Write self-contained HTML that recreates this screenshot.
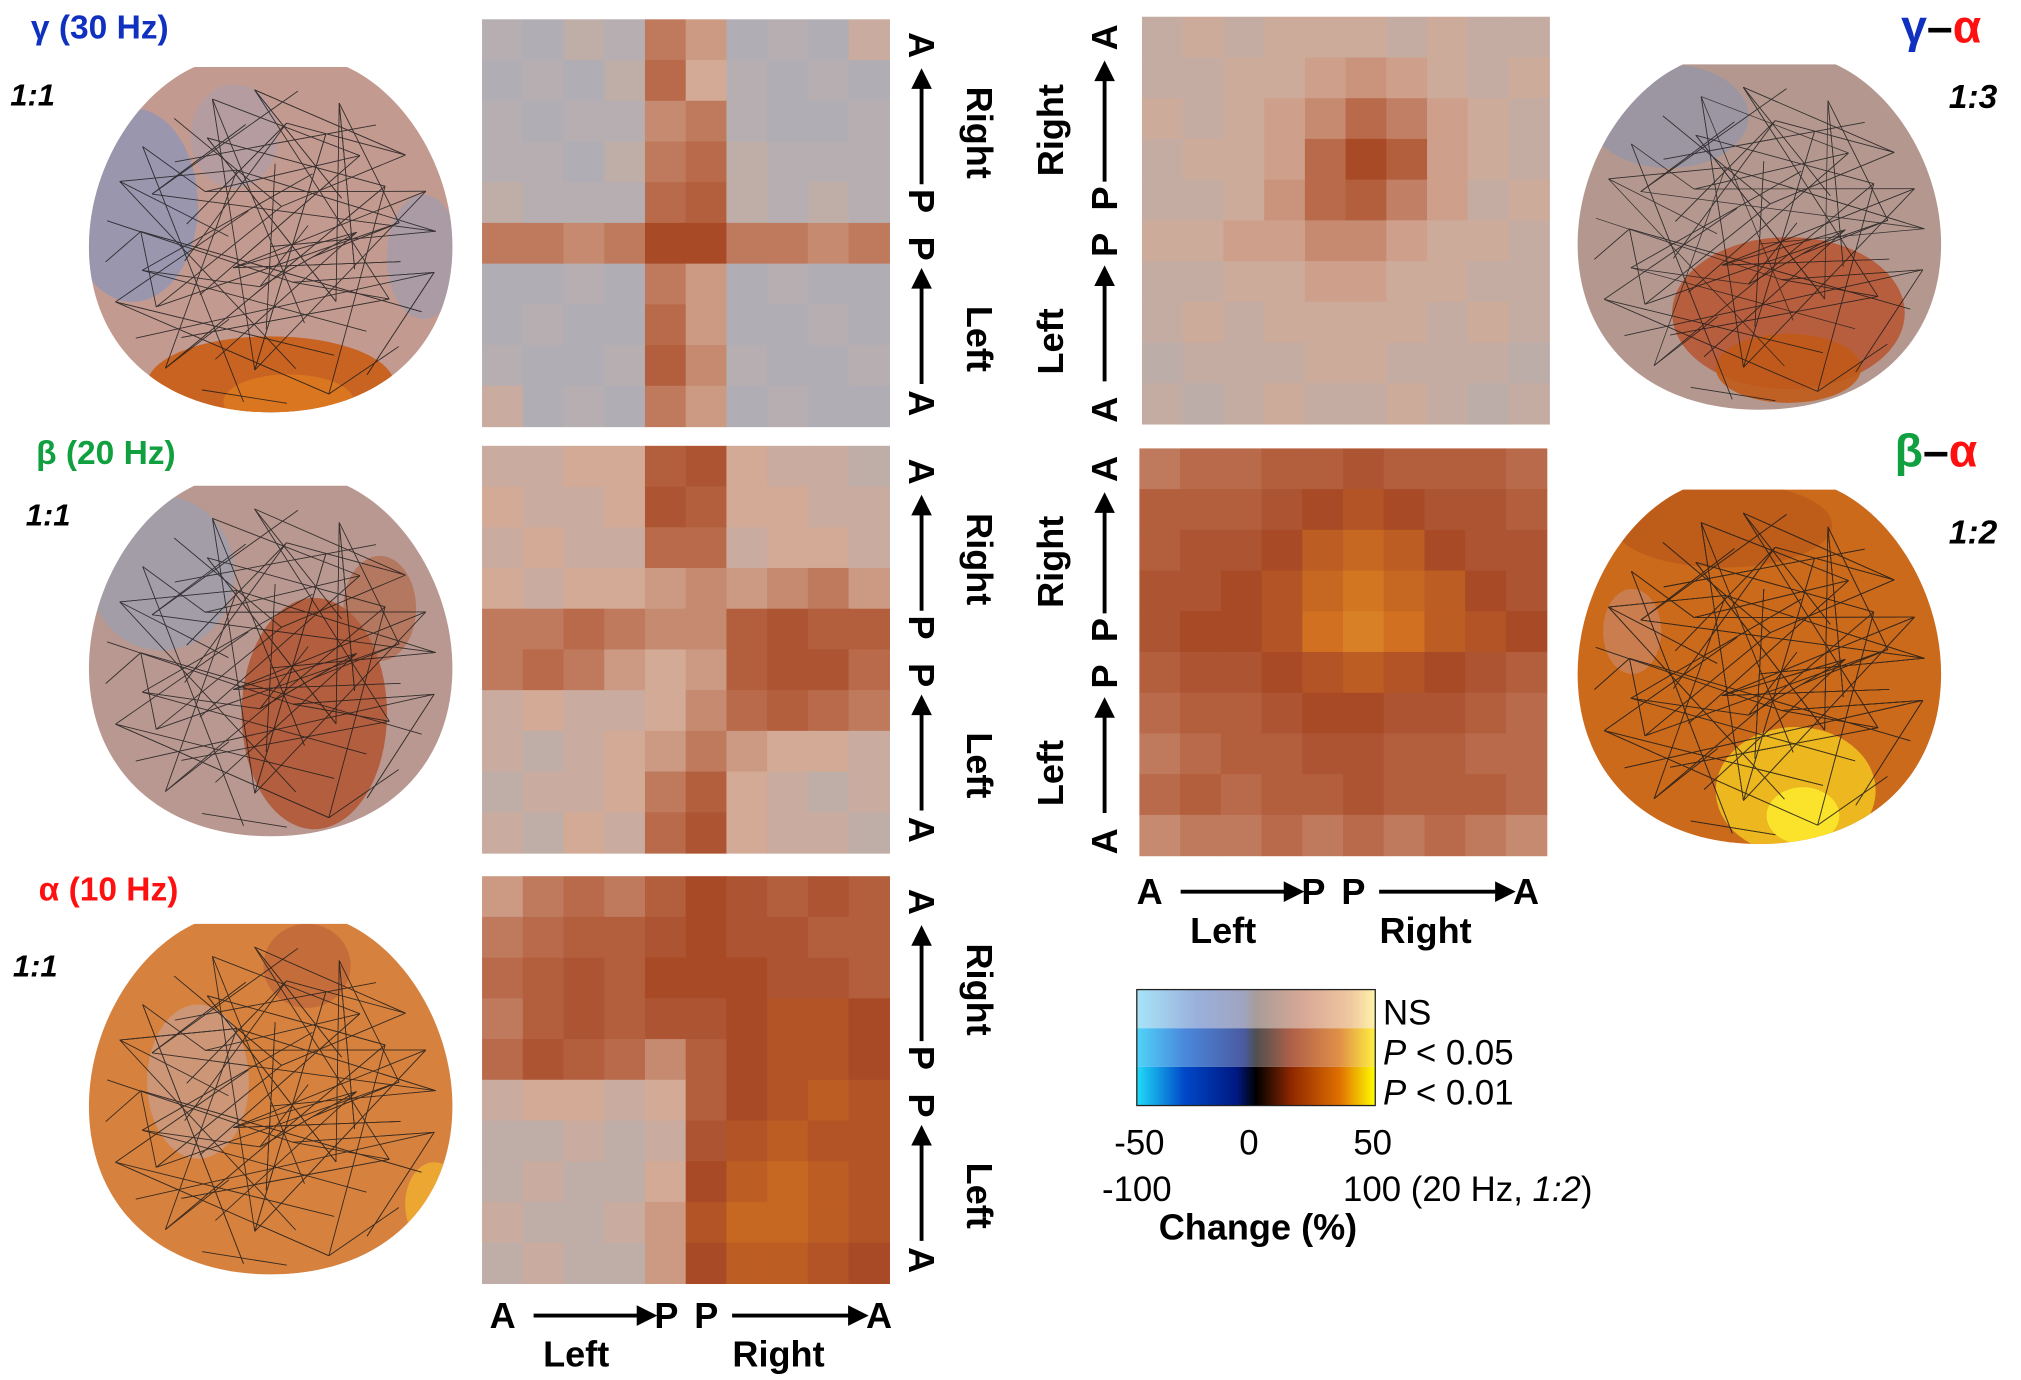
<!DOCTYPE html>
<html><head><meta charset="utf-8"><style>
html,body{margin:0;padding:0;background:#fff;}
svg{display:block;}
text{font-family:"Liberation Sans",sans-serif;}
</style></head><body>
<svg id="fig" width="2021" height="1380" viewBox="0 0 1568 1071" preserveAspectRatio="none" xmlns="http://www.w3.org/2000/svg">
<defs>
<linearGradient id="cb1" x1="0" x2="1" y1="0" y2="0"><stop offset="0" stop-color="#a8e4f8"/><stop offset="0.25" stop-color="#9ab0dc"/><stop offset="0.45" stop-color="#a0a4c0"/><stop offset="0.5" stop-color="#a89c98"/><stop offset="0.7" stop-color="#d8a896"/><stop offset="0.9" stop-color="#f0c8a0"/><stop offset="1" stop-color="#fff4a8"/></linearGradient>
<linearGradient id="cb2" x1="0" x2="1" y1="0" y2="0"><stop offset="0" stop-color="#50d4f8"/><stop offset="0.2" stop-color="#4a88dc"/><stop offset="0.45" stop-color="#4a5aa0"/><stop offset="0.5" stop-color="#505050"/><stop offset="0.65" stop-color="#b06048"/><stop offset="0.85" stop-color="#e09048"/><stop offset="1" stop-color="#fff040"/></linearGradient>
<linearGradient id="cb3" x1="0" x2="1" y1="0" y2="0"><stop offset="0" stop-color="#20dcf8"/><stop offset="0.2" stop-color="#0048c8"/><stop offset="0.42" stop-color="#001880"/><stop offset="0.5" stop-color="#000"/><stop offset="0.65" stop-color="#902800"/><stop offset="0.85" stop-color="#e07000"/><stop offset="1" stop-color="#ffff00"/></linearGradient>
</defs>
<g id="heat-layer"></g>
<g id="head-layer"></g>

<text x="24" y="30" font-size="26" font-weight="bold" fill="#1030c0">γ (30 Hz)</text>
<text x="8" y="82" font-size="24" font-weight="bold" font-style="italic">1:1</text>
<text x="28" y="360" font-size="26" font-weight="bold" fill="#10a040">β (20 Hz)</text>
<text x="20" y="408" font-size="24" font-weight="bold" font-style="italic">1:1</text>
<text x="30" y="699" font-size="26" font-weight="bold" fill="#ff1010">α (10 Hz)</text>
<text x="10" y="758" font-size="24" font-weight="bold" font-style="italic">1:1</text>
<text x="1475" y="33" font-size="36" font-weight="bold"><tspan fill="#1030c0">γ</tspan><tspan fill="#000">–</tspan><tspan fill="#ff1010">α</tspan></text>
<text x="1512" y="84" font-size="26" font-weight="bold" font-style="italic">1:3</text>
<text x="1470" y="362" font-size="36" font-weight="bold"><tspan fill="#10a040">β</tspan><tspan fill="#000">–</tspan><tspan fill="#ff1010">α</tspan></text>
<text x="1512" y="422" font-size="26" font-weight="bold" font-style="italic">1:2</text>

<g id="axis-layer"></g>

<g>
<rect x="882" y="768" width="185" height="30" fill="url(#cb1)"/>
<rect x="882" y="798" width="185" height="30" fill="url(#cb2)"/>
<rect x="882" y="828" width="185" height="30" fill="url(#cb3)"/>
<rect x="882" y="768" width="185" height="90" fill="none" stroke="#222" stroke-width="1"/>
</g>
<text x="1073" y="795" font-size="27">NS</text>
<text x="1073" y="826" font-size="27"><tspan font-style="italic">P</tspan> &lt; 0.05</text>
<text x="1073" y="857" font-size="27"><tspan font-style="italic">P</tspan> &lt; 0.01</text>
<text x="884" y="896" font-size="27" text-anchor="middle">-50</text>
<text x="969" y="896" font-size="27" text-anchor="middle">0</text>
<text x="1065" y="896" font-size="27" text-anchor="middle">50</text>
<text x="882" y="932" font-size="27" text-anchor="middle">-100</text>
<text x="1042" y="932" font-size="27">100 (20 Hz, <tspan font-style="italic">1:2</tspan>)</text>
<text x="976" y="962" font-size="28" font-weight="bold" text-anchor="middle">Change (%)</text>
</svg>
<script>
const gammaMatrix = [
[0.0,-0.05,0.05,0.0,0.3,0.2,-0.05,0.0,-0.05,0.1],
[-0.05,0.0,-0.05,0.05,0.35,0.15,0.0,-0.05,0.0,-0.05],
[0.0,-0.05,0.0,0.0,0.25,0.3,0.0,-0.05,-0.05,0.0],
[0.0,0.0,-0.05,0.05,0.3,0.35,0.05,0.0,0.0,0.0],
[0.05,0.0,0.0,0.0,0.35,0.4,0.05,0.0,0.05,0.0],
[0.3,0.3,0.25,0.3,0.5,0.5,0.3,0.3,0.25,0.3],
[-0.05,-0.05,0.0,-0.05,0.3,0.2,-0.05,0.0,-0.05,-0.05],
[-0.05,0.0,-0.05,-0.05,0.35,0.2,-0.05,-0.05,0.0,-0.05],
[0.0,-0.05,-0.05,0.0,0.4,0.25,0.0,-0.05,-0.05,0.0],
[0.1,-0.05,0.0,-0.05,0.3,0.2,-0.05,0.0,-0.05,-0.05]];
const betaMatrix = [
[0.1,0.1,0.15,0.15,0.4,0.45,0.15,0.1,0.1,0.05],
[0.15,0.1,0.1,0.15,0.45,0.4,0.15,0.15,0.1,0.1],
[0.1,0.15,0.1,0.1,0.35,0.35,0.1,0.15,0.15,0.1],
[0.15,0.1,0.15,0.15,0.2,0.25,0.2,0.25,0.3,0.2],
[0.3,0.3,0.35,0.3,0.25,0.25,0.4,0.45,0.4,0.4],
[0.3,0.35,0.3,0.2,0.15,0.2,0.4,0.45,0.45,0.35],
[0.1,0.15,0.1,0.1,0.15,0.25,0.35,0.4,0.35,0.3],
[0.1,0.05,0.1,0.15,0.2,0.3,0.2,0.15,0.15,0.1],
[0.05,0.1,0.1,0.15,0.3,0.4,0.15,0.1,0.05,0.1],
[0.1,0.05,0.15,0.1,0.35,0.45,0.15,0.1,0.1,0.05]];
const alphaMatrix = [
[0.2,0.3,0.35,0.3,0.4,0.5,0.45,0.4,0.45,0.4],
[0.3,0.35,0.4,0.4,0.45,0.5,0.45,0.45,0.4,0.4],
[0.35,0.4,0.45,0.4,0.5,0.5,0.5,0.45,0.45,0.4],
[0.3,0.4,0.45,0.4,0.45,0.45,0.5,0.55,0.55,0.5],
[0.35,0.45,0.4,0.35,0.25,0.4,0.5,0.55,0.55,0.5],
[0.1,0.15,0.15,0.1,0.15,0.4,0.5,0.55,0.6,0.55],
[0.05,0.05,0.1,0.05,0.1,0.45,0.55,0.6,0.55,0.55],
[0.05,0.1,0.05,0.05,0.15,0.5,0.6,0.65,0.6,0.55],
[0.1,0.05,0.05,0.1,0.2,0.55,0.65,0.65,0.6,0.55],
[0.05,0.1,0.05,0.05,0.2,0.5,0.6,0.6,0.55,0.5]];
const gammaAlphaMatrix = [
[0.08,0.12,0.08,0.12,0.12,0.12,0.08,0.12,0.08,0.08],
[0.08,0.08,0.12,0.12,0.18,0.22,0.18,0.12,0.08,0.12],
[0.12,0.08,0.12,0.18,0.25,0.35,0.28,0.18,0.12,0.08],
[0.08,0.12,0.12,0.18,0.35,0.5,0.4,0.18,0.12,0.08],
[0.08,0.08,0.12,0.22,0.35,0.4,0.28,0.18,0.08,0.12],
[0.12,0.12,0.18,0.18,0.25,0.25,0.18,0.12,0.12,0.08],
[0.08,0.08,0.12,0.12,0.18,0.18,0.12,0.12,0.08,0.08],
[0.08,0.12,0.08,0.12,0.12,0.12,0.12,0.08,0.12,0.08],
[0.04,0.08,0.08,0.08,0.12,0.12,0.08,0.08,0.08,0.04],
[0.08,0.04,0.08,0.12,0.08,0.08,0.12,0.08,0.04,0.08]];
const betaAlphaMatrix = [
[0.3,0.35,0.35,0.4,0.4,0.45,0.4,0.4,0.4,0.35],
[0.4,0.4,0.4,0.45,0.5,0.55,0.5,0.45,0.45,0.4],
[0.4,0.45,0.45,0.5,0.6,0.65,0.6,0.5,0.45,0.45],
[0.45,0.45,0.5,0.55,0.65,0.72,0.65,0.6,0.5,0.45],
[0.45,0.5,0.5,0.55,0.7,0.75,0.7,0.6,0.55,0.5],
[0.4,0.45,0.45,0.5,0.55,0.6,0.55,0.5,0.45,0.4],
[0.35,0.4,0.4,0.45,0.5,0.5,0.45,0.45,0.4,0.35],
[0.3,0.35,0.4,0.4,0.45,0.45,0.4,0.4,0.35,0.35],
[0.35,0.4,0.35,0.4,0.4,0.45,0.4,0.4,0.4,0.35],
[0.25,0.3,0.3,0.35,0.3,0.35,0.3,0.35,0.3,0.25]];

const NS='http://www.w3.org/2000/svg';
function mk(tag,attrs,parent){const e=document.createElementNS(NS,tag);for(const k in attrs)e.setAttribute(k,attrs[k]);parent.appendChild(e);return e;}
function lerp(a,b,t){return a+(b-a)*t;}
function hex(c){return [parseInt(c.slice(1,3),16),parseInt(c.slice(3,5),16),parseInt(c.slice(5,7),16)];}
const posStops=[[0,'#b6aeb0'],[0.15,'#d2aa96'],[0.35,'#b86a4a'],[0.5,'#a84a26'],[0.7,'#d07020'],[0.85,'#e8a030'],[1,'#ffe040']];
const negStops=[[0,'#b6aeb0'],[0.3,'#9aa6c8'],[0.7,'#4060b0'],[1,'#102070']];
function cmap(v){const st=v>=0?posStops:negStops;const a=Math.min(1,Math.abs(v));
 for(let i=1;i<st.length;i++){if(a<=st[i][0]){const t=(a-st[i-1][0])/(st[i][0]-st[i-1][0]);const c0=hex(st[i-1][1]),c1=hex(st[i][1]);
 return 'rgb('+c0.map((c,j)=>Math.round(lerp(c,c1[j],t))).join(',')+')';}}return st[st.length-1][1];}

const heat=document.getElementById('heat-layer');
function drawMatrix(data,x0,y0,size,name){
 const g=mk('g',{},heat);
 
 
 const n=data.length,cw=size/data[0].length,ch=size/n;
 const xs=c=>x0+c*cw, ys=r=>y0+r*ch;
 data.forEach((row,r)=>row.forEach((v,c)=>{
  const rc=mk('rect',{x:xs(c),y:ys(r),width:cw+0.5,height:ch+0.5,fill:cmap(v)},g);
  
  
 }));
}
drawMatrix(gammaMatrix,374,15,316,'gamma-matrix');
drawMatrix(betaMatrix,374,346,316,'beta-matrix');
drawMatrix(alphaMatrix,374,680,316,'alpha-matrix');
drawMatrix(gammaAlphaMatrix,886,13,316,'gamma-alpha-matrix');
drawMatrix(betaAlphaMatrix,884,348,316,'beta-alpha-matrix');

const heads=document.getElementById('head-layer');
function headPath(cx,top,w,h){const hw=w/2;
 return `M${cx-hw*0.42},${top} L${cx+hw*0.42},${top} C${cx+hw*0.75},${top+h*0.08} ${cx+hw},${top+h*0.3} ${cx+hw},${top+h*0.52} C${cx+hw},${top+h*0.8} ${cx+hw*0.62},${top+h} ${cx},${top+h} C${cx-hw*0.62},${top+h} ${cx-hw},${top+h*0.8} ${cx-hw},${top+h*0.52} C${cx-hw},${top+h*0.3} ${cx-hw*0.75},${top+h*0.08} ${cx-hw*0.42},${top} Z`;}
let hid=0;
function drawHead(cx,top,w,h,base,blobs,name,density){
 hid++;
 const g=mk('g',{},heads);
 
 
 const cp=mk('clipPath',{id:'hc'+hid},g);
 mk('path',{d:headPath(cx,top,w,h)},cp);
 mk('path',{d:headPath(cx,top,w,h),fill:base},g);
 const bg=mk('g',{'clip-path':`url(#hc${hid})`},g);
 blobs.forEach(b=>mk('ellipse',{cx:cx+b[0]*w,cy:top+b[1]*h,rx:b[2]*w,ry:b[3]*h,fill:b[4],opacity:b[5]},bg));
 const pts=[];
 const rings=[[0,1],[0.25,8],[0.5,14],[0.75,20],[0.95,24]];
 rings.forEach(([r,m])=>{for(let i=0;i<m;i++){const a=i/m*2*Math.PI+r;pts.push([cx+Math.sin(a)*r*w*0.48,top+h*0.52-Math.cos(a)*r*h*0.48]);}});
 const lg=mk('g',{stroke:'#1a1a1a','stroke-width':0.6,opacity:0.8},g);
 const n=pts.length;
 for(let k=0;k<density;k++){const a=pts[(k*37+5)%n],b=pts[(k*k*7+k*13+11)%n];
  mk('line',{x1:a[0],y1:a[1],x2:b[0],y2:b[1]},lg);}
}
drawHead(210,52,282,268,'#c29a90',[[-0.38,0.4,0.18,0.28,'#8c94b8',0.75],[0.42,0.55,0.1,0.18,'#9a9cb4',0.6],[-0.1,0.2,0.12,0.15,'#a0a0b8',0.4],[0,0.92,0.34,0.14,'#c8601c',0.95],[0.05,0.97,0.18,0.08,'#e07a20',0.8]],'gamma-head',150);
drawHead(210,377,282,272,'#b89890',[[-0.3,0.25,0.2,0.22,'#9aa0b0',0.7],[0.12,0.65,0.2,0.33,'#b0502a',0.8],[0.3,0.35,0.1,0.15,'#b06040',0.6]],'beta-head',140);
drawHead(210,717,282,272,'#d6813e',[[-0.2,0.45,0.14,0.22,'#c8a090',0.7],[0.1,0.12,0.12,0.12,'#b8603a',0.6],[0.45,0.8,0.08,0.12,'#f0b030',0.8]],'alpha-head',160);
drawHead(1365,50,282,268,'#b49890',[[-0.25,0.15,0.22,0.15,'#8c94b0',0.6],[0.08,0.72,0.32,0.22,'#b8502a',0.8],[0.08,0.88,0.2,0.1,'#c05a18',0.9]],'gamma-alpha-head',120);
drawHead(1365,380,282,275,'#cc6a1c',[[-0.1,0.1,0.3,0.12,'#b85818',0.7],[0.1,0.85,0.22,0.18,'#f0c020',0.9],[0.12,0.92,0.1,0.08,'#ffee30',0.8],[-0.35,0.4,0.08,0.12,'#c89080',0.5]],'beta-alpha-head',260);

const ax=document.getElementById('axis-layer');
function txt(x,y,s,rot,fs,name){
 const t=mk('text',{x:0,y:0,transform:`translate(${x},${y}) rotate(${rot})`,'text-anchor':'middle','dominant-baseline':'central','font-size':fs,'font-weight':'bold'},ax);
 t.textContent=s;
 
 
}
function arrowV(x,y1,y2,name){
 const g=mk('g',{},ax);
 
 
 const d=y2<y1?1:-1;
 mk('line',{x1:x,y1:y1,x2:x,y2:y2+d*14,stroke:'#000','stroke-width':3},g);
 mk('polygon',{points:`${x-8},${y2+d*16} ${x+8},${y2+d*16} ${x},${y2}`,fill:'#000'},g);
}
function arrowH(x1,x2,y,name){
 const g=mk('g',{},ax);
 
 
 mk('line',{x1:x1,y1:y,x2:x2-14,y2:y,stroke:'#000','stroke-width':3},g);
 mk('polygon',{points:`${x2-16},${y-8} ${x2-16},${y+8} ${x2},${y}`,fill:'#000'},g);
}
[15,346,680].forEach(o=>{
 txt(715,o+20,'A',90,28,'axis-a-top');
 arrowV(715,o+128,o+38,'axis-arrow-right');
 txt(715,o+141,'P',90,28,'axis-p');
 txt(715,o+178,'P',90,28,'axis-p');
 arrowV(715,o+283,o+193,'axis-arrow-left');
 txt(715,o+298,'A',90,28,'axis-a-bottom');
 txt(760,o+88,'Right',90,28,'axis-right-label');
 txt(760,o+248,'Left',90,28,'axis-left-label');
});
[13,348].forEach(o=>{
 txt(857,o+305,'A',-90,28,'axis-a-bottom');
 arrowV(857,o+283,o+193,'axis-arrow-left');
 txt(857,o+177,'P',-90,28,'axis-p');
 txt(857,o+141,'P',-90,28,'axis-p');
 arrowV(857,o+128,o+34,'axis-arrow-right');
 txt(857,o+16,'A',-90,28,'axis-a-top');
 txt(815,o+88,'Right',-90,28,'axis-right-label');
 txt(815,o+252,'Left',-90,28,'axis-left-label');
});
function bottomAxis(x0,y){
 txt(x0,y,'A',0,28,'axis-a-left');
 arrowH(x0+24,x0+120,y,'axis-arrow-left-hem');
 txt(x0+127,y,'P',0,28,'axis-p');
 txt(x0+158,y,'P',0,28,'axis-p');
 arrowH(x0+178,x0+284,y,'axis-arrow-right-hem');
 txt(x0+292,y,'A',0,28,'axis-a-right');
 txt(x0+57,y+30,'Left',0,28,'axis-left-label');
 txt(x0+214,y+30,'Right',0,28,'axis-right-label');
}
bottomAxis(390,1021);
bottomAxis(892,692);
</script>
</body></html>
